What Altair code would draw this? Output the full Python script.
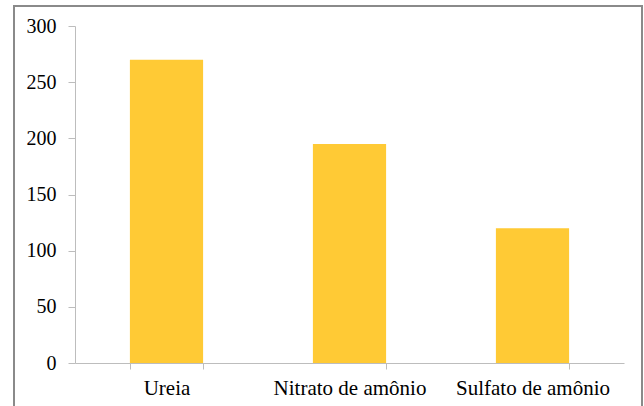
import altair as alt
import pandas as pd

# Fertilizer sources and their values
categories = ["Ureia", "Nitrato de amônio", "Sulfato de amônio"]
values = [270, 195, 120]
y_ticks = [0, 50, 100, 150, 200, 250, 300]

df = pd.DataFrame({"fonte": categories, "valor": values})

FONT = "Times New Roman"

axis_style = dict(
    labelFont=FONT,
    labelColor="#000000",
    domainColor="#bdbdbd",
    tickColor="#bdbdbd",
    grid=False,
)

bars = alt.Chart(df).mark_bar(color="#FFCA35").encode(
    x=alt.X(
        "fonte:N",
        sort=categories,
        title=None,
        scale=alt.Scale(paddingInner=0.6, paddingOuter=0.3),
        axis=alt.Axis(
            labelAngle=0,
            labelFontSize=21,
            labelPadding=8,
            tickSize=6,
            tickBand="extent",
            **axis_style,
        ),
    ),
    y=alt.Y(
        "valor:Q",
        title=None,
        scale=alt.Scale(domain=[0, 300], nice=False),
        axis=alt.Axis(
            values=y_ticks,
            labelFontSize=20,
            labelPadding=12,
            tickSize=7,
            **axis_style,
        ),
    ),
)

# Outer frame around the whole figure
frame = alt.Chart(pd.DataFrame({"k": [0]})).mark_rect(
    fill=None, stroke="#8a8a8a", strokeWidth=2, clip=False
).encode(
    x=alt.value(-61),
    x2=alt.value(567),
    y=alt.value(-20),
    y2=alt.value(420),
)

chart = (
    alt.layer(frame, bars)
    .properties(
        width=549,
        height=337,
        autosize=alt.AutoSizeParams(type="none"),
        padding={"left": 75, "top": 26, "right": 20, "bottom": 43},
    )
    .configure(background="white", font=FONT)
    .configure_view(strokeWidth=0, stroke="transparent")
)

chart.save("out.html", embed_options={"renderer": "svg", "actions": False})
